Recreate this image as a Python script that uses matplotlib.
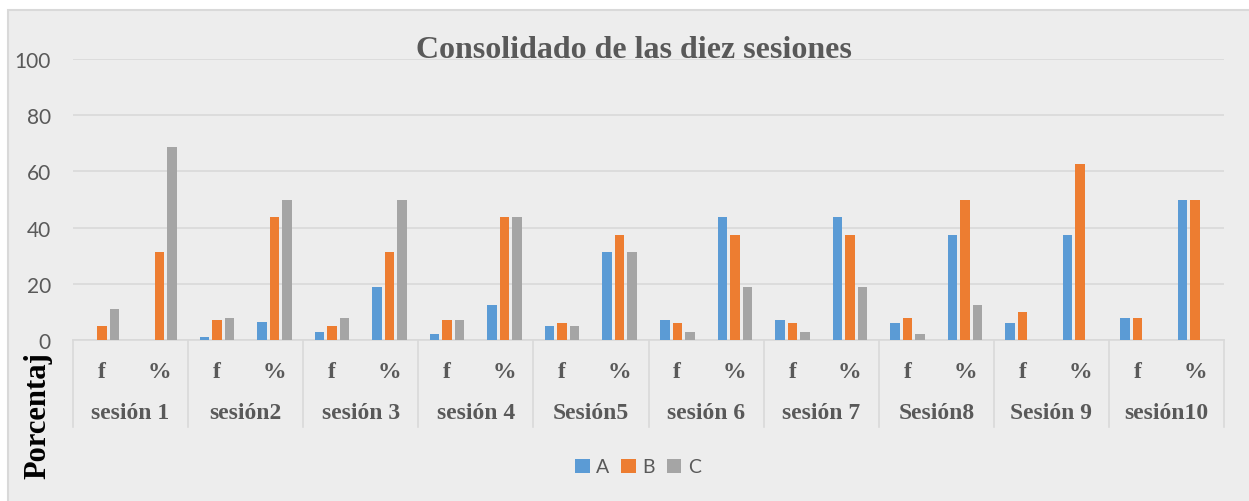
import numpy as np
import matplotlib.pyplot as plt
from matplotlib.patches import Rectangle
from matplotlib.transforms import blended_transform_factory

# data (f = count of 16, % = share)
sessions = ['sesión 1', 'sesión2', 'sesión 3', 'sesión 4', 'Sesión5',
            'sesión 6', 'sesión 7', 'Sesión8', 'Sesión 9', 'sesión10']
sub_labels = ['f', '%']
A_f = [0, 1, 3, 2, 5, 7, 7, 6, 6, 8]
A_pct = [0, 6.25, 18.75, 12.5, 31.25, 43.75, 43.75, 37.5, 37.5, 50]
B_f = [5, 7, 5, 7, 6, 6, 6, 8, 10, 8]
B_pct = [31.25, 43.75, 31.25, 43.75, 37.5, 37.5, 37.5, 50, 62.5, 50]
C_f = [11, 8, 8, 7, 5, 3, 3, 2, 0, 0]
C_pct = [68.75, 50, 50, 43.75, 31.25, 18.75, 18.75, 12.5, 0, 0]
yticks = [0, 20, 40, 60, 80, 100]

W, H = 1249, 502
sans = 'Lato'
serif = 'Liberation Serif'
grey_txt = '#595959'
grid_c = '#D9D9D9'

fig = plt.figure(figsize=(W / 100, H / 100), dpi=100)
fig.patch.set_facecolor('white')
# chart area
fig.patches.append(Rectangle((8 / W, -0.01), 1.0, 1 - 11 / H + 0.01,
                             transform=fig.transFigure, facecolor='#EDEDED',
                             edgecolor=grid_c, lw=1.5, zorder=-5))

ax = fig.add_axes([73 / W, 1 - 341 / H, (1224 - 73) / W, (341 - 60) / H])
ax.set_facecolor('none')

def interleave(f, p):
    out = []
    for a, b in zip(f, p):
        out += [a, b]
    return np.array(out)

x = np.arange(2 * len(sessions))
series = [('A', interleave(A_f, A_pct), '#5B9BD5', -0.217),
          ('B', interleave(B_f, B_pct), '#ED7D31', 0.0),
          ('C', interleave(C_f, C_pct), '#A5A5A5', 0.217)]
for name, vals, col, off in series:
    ax.bar(x + off, vals, width=0.165, color=col, label=name, zorder=3)

ax.set_xlim(-0.5, len(x) - 0.5)
ax.set_ylim(0, 100)
ax.set_yticks(yticks)
ax.set_xticks([])
ax.grid(axis='y', color=grid_c, lw=1.2)
ax.set_axisbelow(True)
for s in ['left', 'right', 'top']:
    ax.spines[s].set_visible(False)
ax.spines['bottom'].set_color(grid_c)
ax.spines['bottom'].set_linewidth(1.2)
ax.tick_params(axis='y', length=0, pad=16, labelsize=15, labelcolor=grey_txt)
for lb in ax.get_yticklabels():
    lb.set_fontfamily(sans)

# two-level category axis
tr = blended_transform_factory(ax.transData, ax.transAxes)
for i, s in enumerate(sessions):
    for j, sl in enumerate(sub_labels):
        ax.text(2 * i + j, -0.112, sl, transform=tr, ha='center', va='center',
                fontsize=17, fontweight='bold', family=serif, color=grey_txt)
    ax.text(2 * i + 0.5, -0.258, s, transform=tr, ha='center', va='center',
            fontsize=17, fontweight='bold', family=serif, color=grey_txt)
for b in np.arange(len(sessions) + 1) * 2 - 0.5:
    ax.plot([b, b], [0, -0.31], transform=tr, color=grid_c, lw=1.2, clip_on=False)

fig.text(634 / W, 1 - 50 / H, 'Consolidado de las diez sesiones', ha='center',
         va='center', fontsize=23, fontweight='bold', family=serif, color=grey_txt)
fig.text(38 / W, 1 - 416 / H, 'Porcentaj', rotation=90, ha='center', va='center',
         fontsize=22, fontweight='bold', family=serif, color='black')

leg = fig.legend(loc='center', bbox_to_anchor=(638 / W, 1 - 468 / H), ncol=3,
                 frameon=False, handlelength=0.75, handleheight=0.75,
                 handletextpad=0.35, columnspacing=0.6,
                 prop={'family': sans, 'size': 14})
for t in leg.get_texts():
    t.set_color(grey_txt)

fig.savefig('out.png', dpi=100, facecolor=fig.get_facecolor())
